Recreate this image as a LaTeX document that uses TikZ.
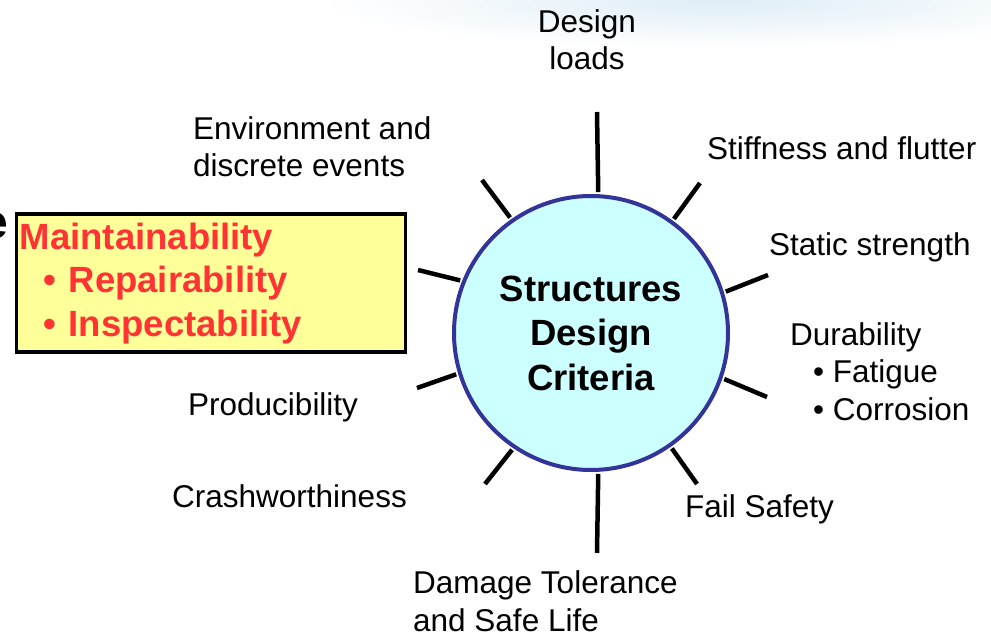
\documentclass[tikz,border=0pt]{standalone}
\usepackage{fontspec}
\setmainfont{Liberation Sans}

\definecolor{ringblue}{RGB}{51,51,153}
\definecolor{ringfill}{RGB}{204,255,255}
\definecolor{boxfill}{RGB}{255,255,153}
\definecolor{boxred}{RGB}{255,51,51}
\definecolor{skyblue}{RGB}{222,237,246}

\tikzset{
	lbl/.style={inner sep=0pt, anchor=base west, align=left, font=\fontsize{31.5}{37.5}\selectfont},
	spoke/.style={line width=4.5pt, shorten <=2pt},
}

\begin{document}
\begin{tikzpicture}[x=1pt, y=-1pt]
	\useasboundingbox (0,0) rectangle (991,636);
	\shade[inner color=skyblue, outer color=white] (720,0) ellipse [x radius=400, y radius=48];
	
	\node[circle, draw=ringblue, line width=4pt, fill=ringfill, minimum size=274pt, inner sep=0pt,
		align=center, font=\bfseries\fontsize{36.5}{44.5}\selectfont] (crit) at (591,333) {Structures\\Design\\Criteria};
	
	\coordinate (sN) at (597,112);
	\coordinate (sNE) at (700,183);
	\coordinate (sE1) at (768,275);
	\coordinate (sE2) at (767,397);
	\coordinate (sSE) at (697,484);
	\coordinate (sS) at (597,553);
	\coordinate (sSW) at (485,484);
	\coordinate (sW2) at (417,388);
	\coordinate (sW1) at (418,270);
	\coordinate (sNW) at (482,180);
	
	\draw[spoke] (crit.87.5) -- (sN);
	\draw[spoke] (crit.54) -- (sNE);
	\draw[spoke] (crit.17.8) -- (sE1);
	\draw[spoke] (crit.-19.2) -- (sE2);
	\draw[spoke] (crit.-55.5) -- (sSE);
	\draw[spoke] (crit.-87.5) -- (sS);
	\draw[spoke] (crit.-124) -- (sSW);
	\draw[spoke] (crit.197.5) -- (sW2);
	\draw[spoke] (crit.158.8) -- (sW1);
	\draw[spoke] (crit.125.6) -- (sNW);
	
	\node[lbl, anchor=base, align=center] (loads) at (587,70) {Design\\loads};
	\node[lbl] (env) at (193,177) {Environment and\\discrete events};
	\node[lbl] (stiff) at (707,160) {Stiffness and flutter};
	\node[lbl] (static) at (769,256) {Static strength};
	\node[lbl] (dura) at (790,420) {Durability\\\hspace*{23pt}• Fatigue\\\hspace*{23pt}• Corrosion};
	\node[lbl] (prod) at (188,415) {Producibility};
	\node[lbl] (crash) at (172,507) {Crashworthiness};
	\node[lbl] (fail) at (685,517) {Fail Safety};
	\node[lbl] (dmg) at (413,631) {Damage Tolerance\\and Safe Life};
	
	\node[font=\bfseries\fontsize{48}{48}\selectfont, anchor=base east, inner sep=0pt] (cut) at (8,239) {e};
	\node[draw, line width=3.5pt, fill=boxfill, anchor=north west, minimum width=389pt, minimum height=138pt,
		text width=382pt, inner xsep=3.5pt, inner ysep=0pt, align=left, text=boxred,
		font=\bfseries\fontsize{36.5}{43.5}\selectfont] (maint) at (14.5,212.5)
		{Maintainability\\\hspace*{24pt}• Repairability\\\hspace*{24pt}• Inspectability};
\end{tikzpicture}
\end{document}
